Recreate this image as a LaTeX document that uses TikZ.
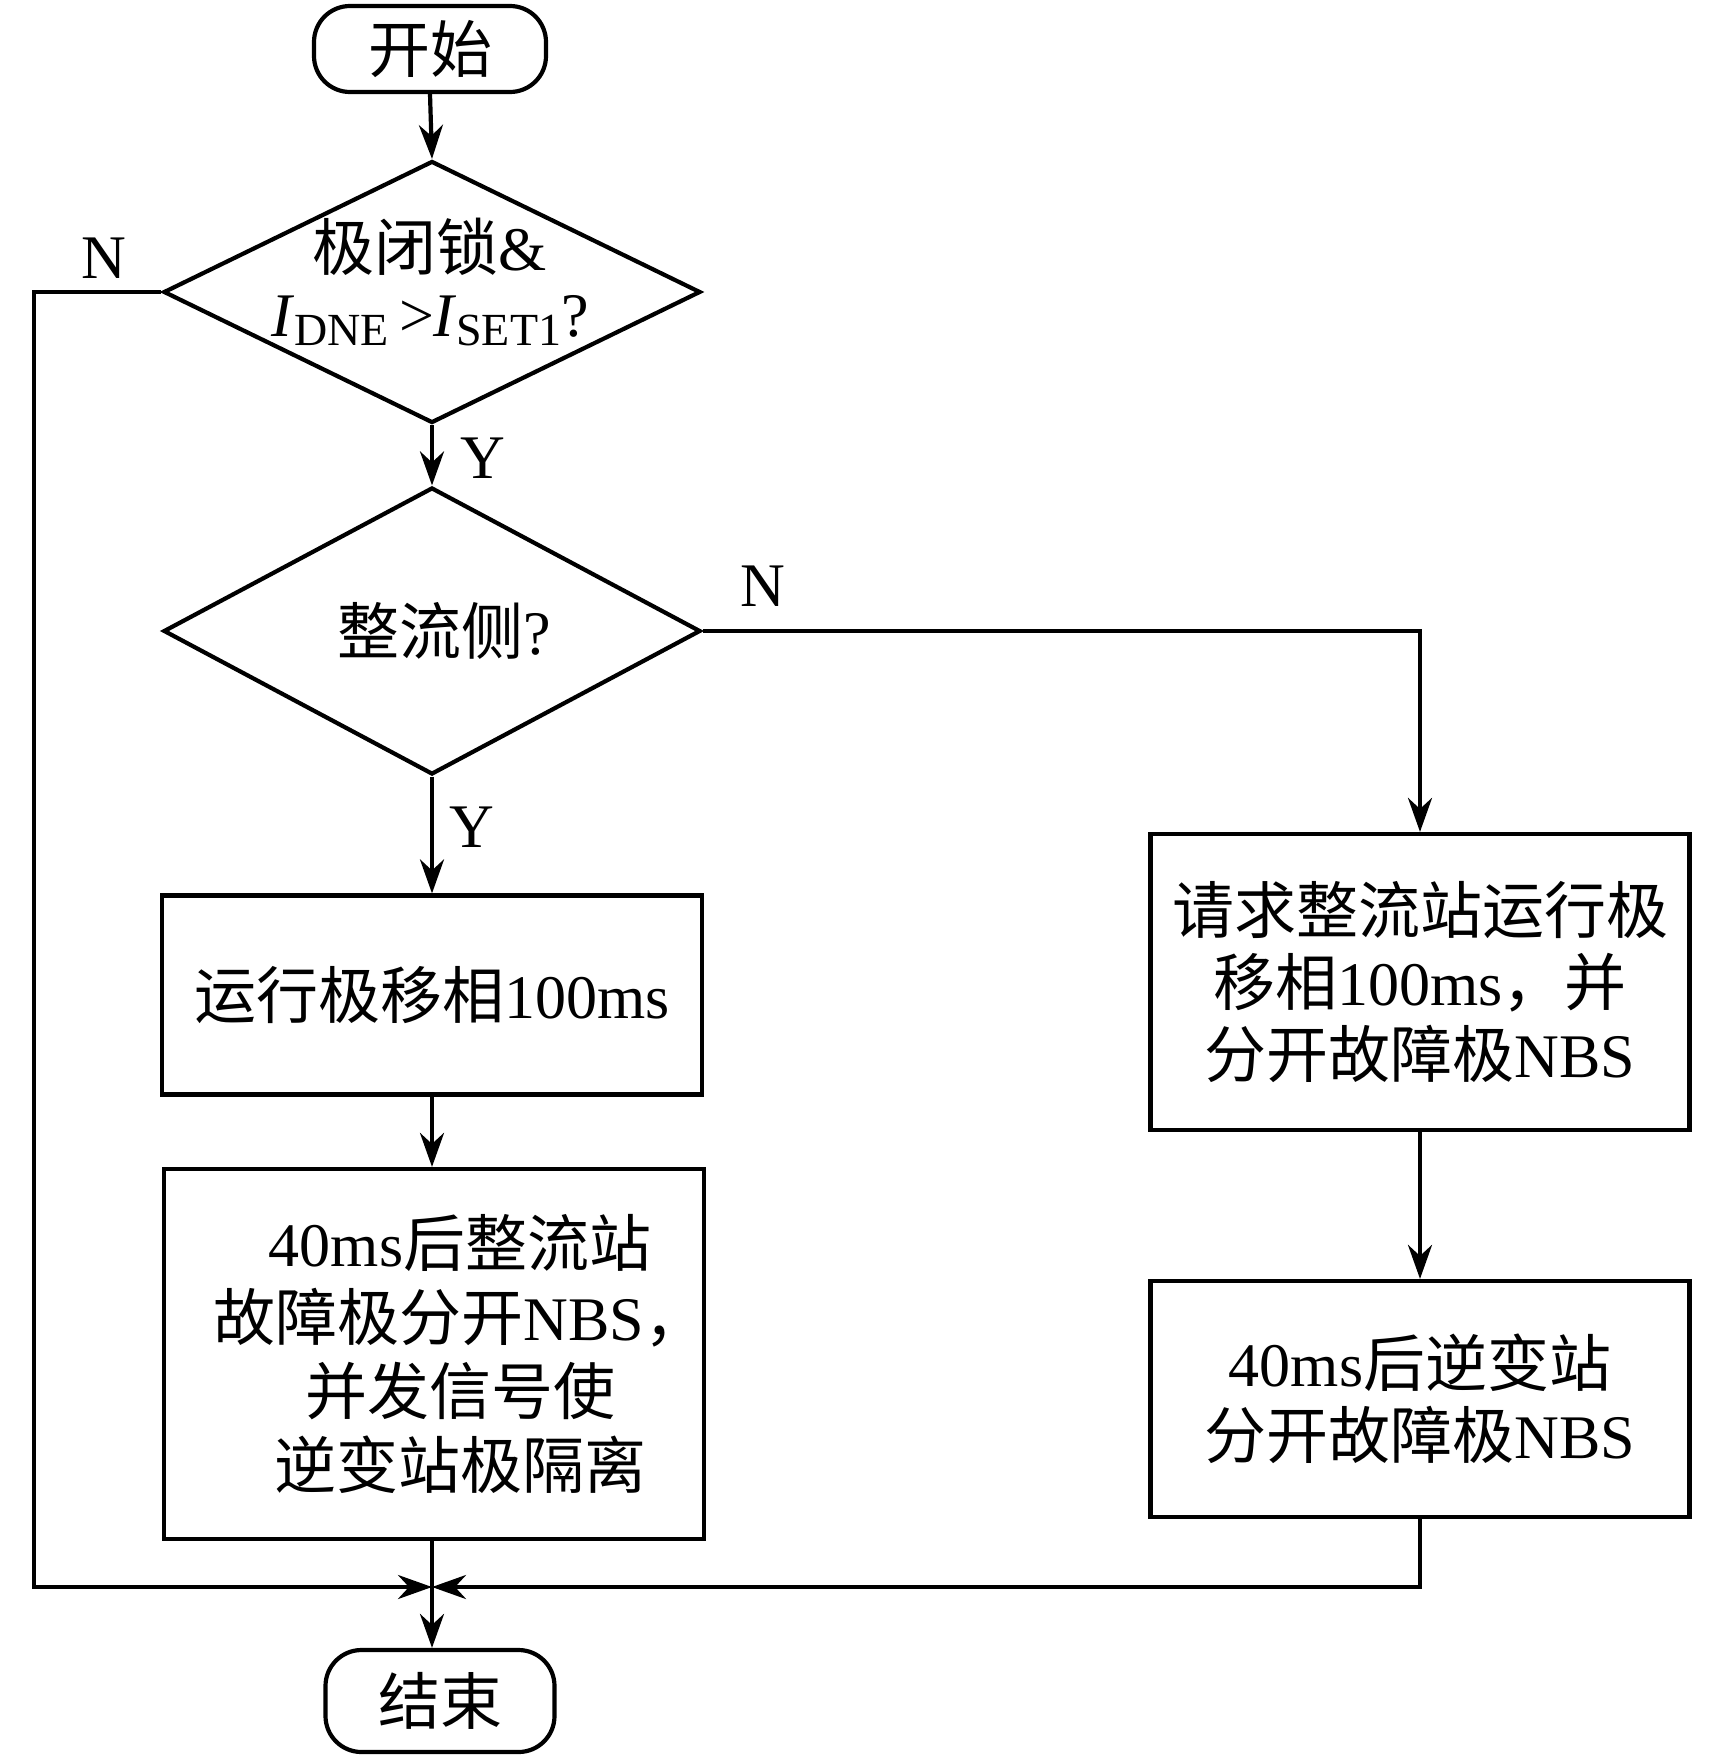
\documentclass[tikz,border=0pt]{standalone}
\usepackage{fontspec}
\setmainfont{Liberation Serif}
\newfontfamily\cjk{Noto Sans CJK SC}
\usetikzlibrary{shapes.geometric,shapes.misc,arrows.meta}
\newcommand{\mysub}[1]{\raisebox{-0.32ex}{\fontsize{46}{46}\selectfont #1}}
\begin{document}
\begin{tikzpicture}[x=1pt,y=-1pt, line width=4.2pt,
  every node/.style={font=\fontsize{62}{72}\selectfont},
  proc/.style={draw, rectangle, inner sep=0pt, align=center},
  term/.style={draw, rectangle, rounded corners=36pt, inner sep=0pt},
  dec/.style={draw, diamond, inner sep=0pt},
  arr/.style={-{Stealth[length=34pt,width=24pt,inset=11pt]}},
  lbl/.style={inner sep=0pt, align=center}]
\useasboundingbox (0,0) rectangle (1728,1761);

\node[term, minimum width=232pt, minimum height=86pt] (start) at (430,49) {\cjk 开始};
\node[dec, minimum width=537pt, minimum height=262pt] (d1) at (432,292) {};
\node[lbl, font=\fontsize{62}{66}\selectfont] (t1) at (430,282) {{\cjk 极闭锁}\&\\\textit{I}\mysub{DNE}\,>\kern-1pt\textit{I}\mysub{SET1}?};
\node[dec, minimum width=537pt, minimum height=287pt] (d2) at (432,631) {};
\node[lbl] (t2) at (444,631) {{\cjk 整流侧}?};

\node[proc, minimum width=540pt, minimum height=199pt] (b1) at (432,995) {{\cjk 运行极移相}100ms};
\node[proc, minimum width=540pt, minimum height=370pt] (b2) at (434,1354) {};
\node[lbl, font=\fontsize{62}{74}\selectfont] (t3) at (460,1354) {40ms{\cjk 后整流站}\\{\cjk 故障极分开}NBS{\cjk ，}\\{\cjk 并发信号使}\\{\cjk 逆变站极隔离}};

\node[proc, minimum width=539pt, minimum height=296pt] (r1) at (1420,982) {{\cjk 请求整流站运行极}\\{\cjk 移相}100ms{\cjk ，并}\\{\cjk 分开故障极}NBS};
\node[proc, minimum width=539pt, minimum height=236pt] (r2) at (1420,1399) {40ms{\cjk 后逆变站}\\{\cjk 分开故障极}NBS};

\node[term, minimum width=229pt, minimum height=102pt] (end) at (440,1701) {\cjk 结束};

\coordinate (m) at (432,1587);
\coordinate (lft) at (34,1587);

\node[lbl] (n1) at (104,258) {N};
\node[lbl] (y1) at (483,458) {Y};
\node[lbl] (n2) at (763,586) {N};
\node[lbl] (y2) at (472,827) {Y};

\draw[arr] (start.south) -- (d1.north);
\draw[arr] (d1.south) -- (d2.north);
\draw[arr] (d2.south) -- (b1.north);
\draw[arr] (b1.south) -- (b1.south |- b2.north);
\draw[arr] (d2.east) -| (r1.north);
\draw[arr] (r1.south) -- (r2.north);
\draw[arr] (d1.west) -| (lft) -- (m);
\draw[arr] (r2.south) |- (m);
\draw[arr] (b1.south |- b2.south) -- (b1.south |- end.north);
\end{tikzpicture}
\end{document}
